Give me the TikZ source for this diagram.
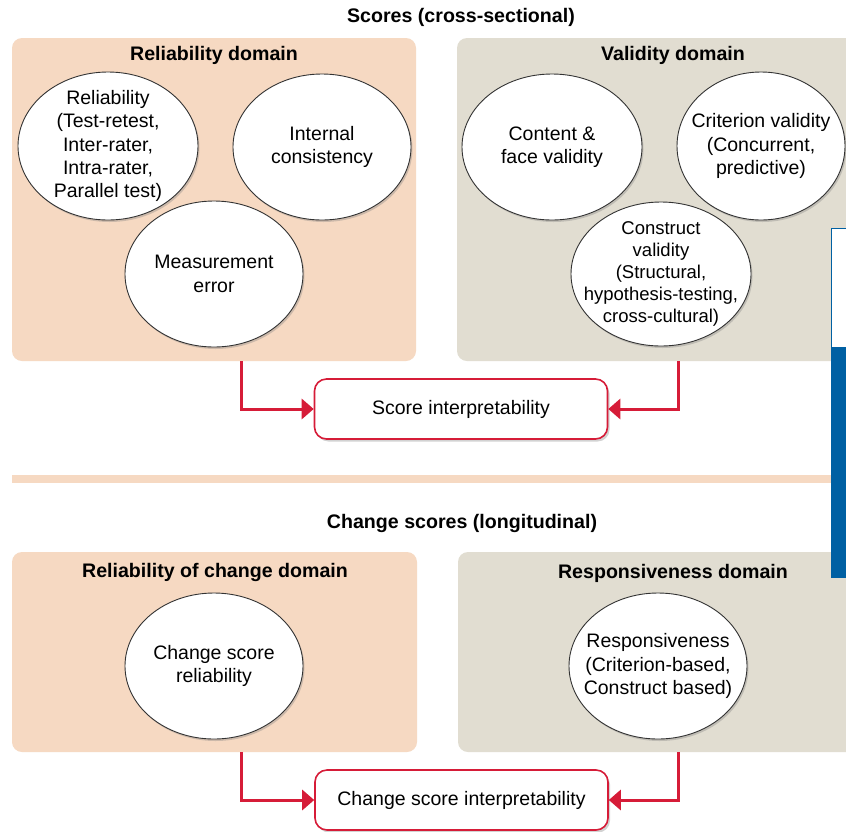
\documentclass[tikz,border=0pt]{standalone}
\usepackage{fontspec}
\setmainfont{Liberation Sans}
\usetikzlibrary{shapes.geometric,arrows.meta,shadows}
\definecolor{peach}{RGB}{246,217,194}
\definecolor{graybox}{RGB}{225,221,209}
\definecolor{redline}{RGB}{214,28,56}
\definecolor{blueov}{RGB}{0,96,163}
\begin{document}
\begin{tikzpicture}[x=1pt,y=-1pt,
  font=\fontsize{19.5}{23.3}\selectfont,
  domainbox/.style={rectangle, rounded corners=10pt, draw=none, inner sep=0pt},
  oval/.style={ellipse, draw=black!80, line width=0.9pt, fill=white, inner sep=0pt,
    drop shadow={opacity=0.35, shadow xshift=1.5pt, shadow yshift=-2pt}},
  ovaltext/.style={align=center, inner sep=0pt},
  interpbox/.style={rectangle, rounded corners=12pt, draw=redline, line width=1.6pt, fill=white,
    minimum width=293pt, minimum height=60pt, inner sep=0pt,
    drop shadow={opacity=0.35, shadow xshift=2pt, shadow yshift=-2.5pt}},
  link/.style={draw=redline, line width=3pt, -{Triangle[length=12pt,width=20pt]}},
  heading/.style={font=\fontsize{19.6}{23}\selectfont\bfseries, inner sep=0pt},
]
\useasboundingbox (0,0) rectangle (846,831);
\fill[white] (0,0) rectangle (846,831);

% ---------- top section ----------
\node[heading] (t1) at (461,17.5) {Scores (cross-sectional)};
\node[domainbox, fill=peach, minimum width=404pt, minimum height=323pt] (relbox) at (214,199.5) {};
\node[domainbox, fill=graybox, minimum width=420pt, minimum height=323pt] (valbox) at (667,199.5) {};
\node[heading] (relt) at (214,55.5) {Reliability domain};
\node[heading] (valt) at (673,55.5) {Validity domain};

\node[oval, minimum width=180pt, minimum height=148pt] (rel) at (108,146) {};
\node[ovaltext] (relx) at (rel) {Reliability\\(Test-retest,\\Inter-rater,\\Intra-rater,\\Parallel test)};
\node[oval, minimum width=178pt, minimum height=146pt] (int) at (322,147) {};
\node[ovaltext] (intx) at (int) {Internal\\consistency};
\node[oval, minimum width=178pt, minimum height=146pt] (meas) at (214,274) {};
\node[ovaltext] (measx) at (meas) {Measurement\\error};
\node[oval, minimum width=180pt, minimum height=146pt] (cont) at (552,147) {};
\node[ovaltext] (contx) at (cont) {Content \&\\face validity};
\node[oval, minimum width=168pt, minimum height=148pt] (crit) at (761,146) {};
\node[ovaltext] (critx) at (crit) {Criterion validity\\(Concurrent,\\predictive)};
\node[oval, minimum width=180pt, minimum height=144pt] (cons) at (661,274) {};
\node[ovaltext, font=\fontsize{18.5}{22}\selectfont] (consx) at (cons)
  {Construct\\validity\\(Structural,\\hypothesis-testing,\\cross-cultural)};

\node[interpbox] (si) at (461,409) {Score interpretability};
\draw[link] (relbox.south west) ++(230,0) |- (si.west);
\draw[link] (relbox.south west) ++(667,0) |- (si.east);

% ---------- divider ----------
\fill[peach] (12,475) rectangle (846,483);

% ---------- bottom section ----------
\node[heading] (t2) at (462,523.5) {Change scores (longitudinal)};
\node[domainbox, fill=peach, minimum width=405pt, minimum height=200pt] (rcbox) at (214.5,652) {};
\node[domainbox, fill=graybox, minimum width=420pt, minimum height=200pt] (rsbox) at (668,652) {};
\node[heading] (rct) at (215,572.5) {Reliability of change domain};
\node[heading] (rst) at (673,573.5) {Responsiveness domain};

\node[oval, minimum width=178pt, minimum height=146pt] (csr) at (214,666) {};
\node[ovaltext] (csrx) at (csr) {Change score\\reliability};
\node[oval, minimum width=178pt, minimum height=146pt] (resp) at (658,666) {};
\node[ovaltext] (respx) at (resp) {Responsiveness\\(Criterion-based,\\Construct based)};

\node[interpbox] (csi) at (461.5,800) {Change score interpretability};
\draw[link] (rcbox.south west) ++(230,0) |- (csi.west);
\draw[link] (rcbox.south west) ++(667,0) |- (csi.east);

% ---------- overlay panel at right edge ----------
\fill[white] (831,228) rectangle (848,347);
\draw[blueov, line width=1pt] (848,228) -- (831.5,228) -- (831.5,347);
\fill[blueov] (831,347) rectangle (848,578);
\end{tikzpicture}
\end{document}
